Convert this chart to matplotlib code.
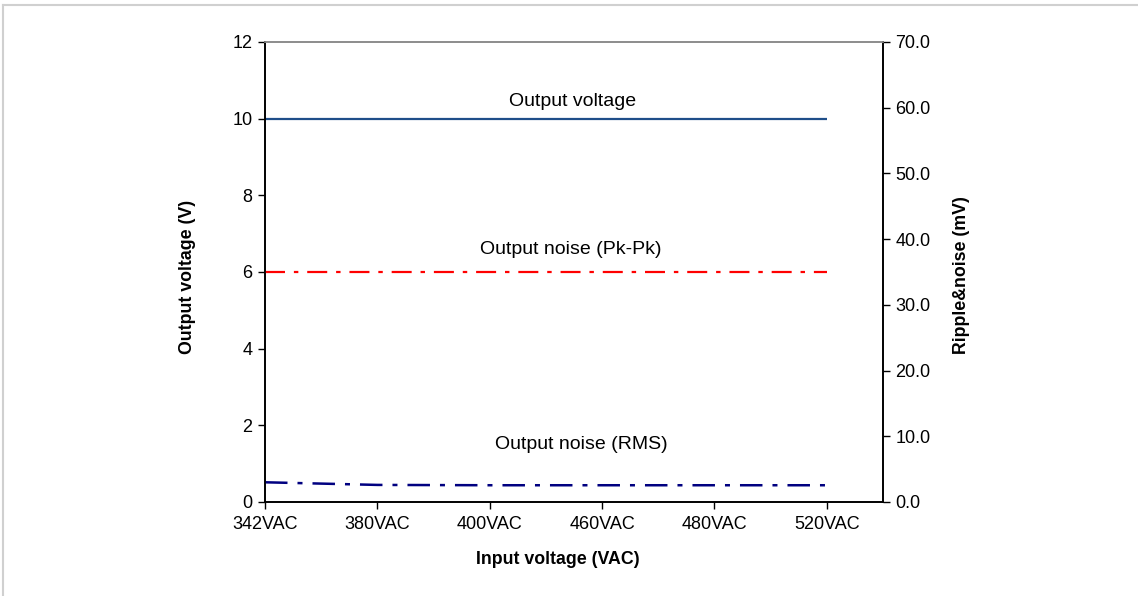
import matplotlib
matplotlib.use("Agg")
import matplotlib.pyplot as plt
from matplotlib.ticker import FormatStrFormatter
from matplotlib.lines import Line2D

plt.rcParams['font.family'] = ['Liberation Sans', 'DejaVu Sans']

categories = ["342VAC", "380VAC", "400VAC", "460VAC", "480VAC", "520VAC"]
output_voltage = [10, 10, 10, 10, 10, 10]          # V, left axis
noise_pkpk = [35.0, 35.0, 35.0, 35.0, 35.0, 35.0]  # mV, right axis
noise_rms = [3.0, 2.6, 2.55, 2.55, 2.55, 2.55]     # mV, right axis

fig = plt.figure(figsize=(11.38, 5.96), dpi=100)
W, H = 1138, 596
ax = fig.add_axes([265 / W, (H - 502) / H, (883 - 265) / W, (502 - 42) / H])
ax2 = ax.twinx()

x = list(range(len(categories)))
ax.plot(x, output_voltage, color='#1f4e89', lw=1.6, solid_capstyle='butt')
ax2.plot(x, noise_pkpk, color='#ff0000', lw=1.6, dashes=(9, 4, 2, 4))
ax2.plot(x, noise_rms, color='#000080', lw=1.8, dashes=(9, 4, 2, 4))

ax.set_xlim(0, 5.5)
ax.set_ylim(0, 12)
ax2.set_ylim(0, 70)
ax.set_xticks(x)
ax.set_xticklabels(categories)
ax.set_yticks(range(0, 13, 2))
ax2.set_yticks(range(0, 71, 10))
ax2.yaxis.set_major_formatter(FormatStrFormatter('%.1f'))

for a in (ax, ax2):
    a.tick_params(axis='both', direction='out', length=5, width=1, labelsize=13,
                  colors='black', pad=4)
    for s in a.spines.values():
        s.set_color('black')
        s.set_linewidth(1.2)
    a.spines['top'].set_color('#8c8c8c')
ax.tick_params(axis='x', pad=5)

ax.set_xlabel("Input voltage (VAC)", fontsize=12.8, fontweight='bold')
ax.set_ylabel("Output voltage (V)", fontsize=12.8, fontweight='bold')
ax2.set_ylabel("Ripple&noise (mV)", fontsize=12.8, fontweight='bold')
ax.xaxis.set_label_coords((558 - 265) / 618, (502 - 560) / 460)
ax.yaxis.set_label_coords((187 - 265) / 618, (502 - 277) / 460)
ax2.yaxis.set_label_coords((962 - 265) / 618, (502 - 275) / 460)
ax.xaxis.label.set_va('center')
ax.yaxis.label.set_va('center')
ax2.yaxis.label.set_va('center')

ax.text(0.497, 0.87, "Output voltage", transform=ax.transAxes, ha='center', va='center', fontsize=14)
ax.text(0.494, 0.548, "Output noise (Pk-Pk)", transform=ax.transAxes, ha='center', va='center', fontsize=14)
ax.text(0.512, 0.124, "Output noise (RMS)", transform=ax.transAxes, ha='center', va='center', fontsize=14)

# light frame at top and left of the figure
fig.add_artist(Line2D([3 / W, 1.0], [(H - 5) / H, (H - 5) / H], transform=fig.transFigure,
                      color='#d0d0d0', lw=1.5))
fig.add_artist(Line2D([3 / W, 3 / W], [0, (H - 5) / H], transform=fig.transFigure,
                      color='#d0d0d0', lw=1.5))

fig.savefig("out.png", dpi=100)
